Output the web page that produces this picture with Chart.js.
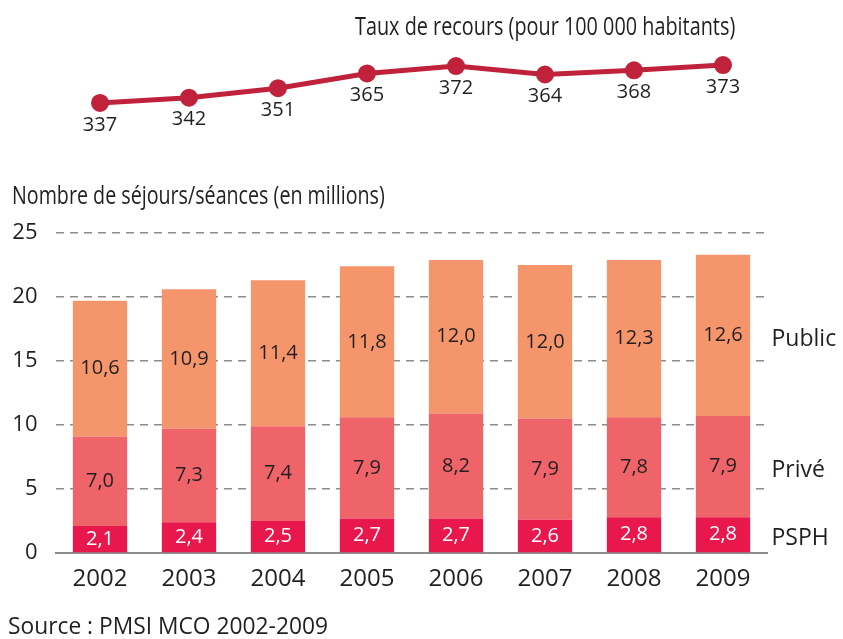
<!DOCTYPE html>
<html>
<head>
<meta charset="utf-8">
<title>Taux de recours et séjours MCO</title>
<script src="https://cdn.jsdelivr.net/npm/chart.js@4.4.1/dist/chart.umd.min.js"></script>
<style>
    body { margin: 0; background: #fff; }
    #wrap { position: relative; width: 843px; height: 639px; font-family: "Open Sans", sans-serif; color: #231f20; }
    #wrap canvas { position: absolute; left: 0; }
    .txt { position: absolute; white-space: nowrap; transform-origin: 0 0; font-size: 25px; line-height: 25px; }
</style>
</head>
<body>
<div id="wrap">
    <canvas id="lineChart" width="843" height="150" style="top:0"></canvas>
    <canvas id="barChart" width="843" height="489" style="top:150px"></canvas>
    <div class="txt" data-w="380" style="left:355px; top:13px;">Taux de recours (pour 100 000 habitants)</div>
    <div class="txt" data-w="373" style="left:12px; top:182px;">Nombre de séjours/séances (en millions)</div>
    <div class="txt" data-w="320" style="left:8px; top:613px; font-size:23px;">Source : PMSI MCO 2002-2009</div>
</div>
<script type="text/javascript">
var years = ['2002', '2003', '2004', '2005', '2006', '2007', '2008', '2009'];
var taux = [337, 342, 351, 365, 372, 364, 368, 373];
var psph = [2.1, 2.4, 2.5, 2.7, 2.7, 2.6, 2.8, 2.8];
var prive = [7.0, 7.3, 7.4, 7.9, 8.2, 7.9, 7.8, 7.9];
var publicS = [10.6, 10.9, 11.4, 11.8, 12.0, 12.0, 12.3, 12.6];
var yTicks = [0, 5, 10, 15, 20, 25];

var dark = '#231f20';
var font = '"Open Sans", sans-serif';

// squeeze the titles to the width they have in the original (condensed font)
document.querySelectorAll('.txt').forEach(function (el) {
    el.style.transform = 'scaleX(' + (+el.dataset.w / el.offsetWidth) + ')';
});

// values under the points of the line
var pointLabels = {
    id: 'pointLabels',
    afterDatasetsDraw: function (chart) {
        var ctx = chart.ctx;
        var meta = chart.getDatasetMeta(0);
        ctx.save();
        ctx.font = '20px ' + font;
        ctx.fillStyle = dark;
        ctx.textAlign = 'center';
        ctx.textBaseline = 'middle';
        meta.data.forEach(function (pt, i) {
            ctx.fillText(String(taux[i]), pt.x, pt.y + 22);
        });
        ctx.restore();
    }
};

new Chart(document.getElementById('lineChart'), {
    type: 'line',
    data: {
        labels: years,
        datasets: [{
            data: taux,
            borderColor: '#c1223b',
            backgroundColor: '#c1223b',
            borderWidth: 5,
            pointRadius: 6.5,
            pointHoverRadius: 6.5,
            tension: 0
        }]
    },
    options: {
        responsive: false,
        animation: false,
        events: [],
        layout: { padding: { left: 55.5, right: 75.5, top: 55, bottom: 35 } },
        plugins: { legend: { display: false }, tooltip: { enabled: false } },
        scales: {
            x: { display: false, offset: true },
            y: { display: false, min: 325.6, max: 382.5 }
        }
    },
    plugins: [pointLabels]
});

// values inside the segments and series names at the right
var barLabels = {
    id: 'barLabels',
    afterDatasetsDraw: function (chart) {
        var ctx = chart.ctx;
        ctx.save();
        ctx.textBaseline = 'middle';
        chart.data.datasets.forEach(function (ds, di) {
            var meta = chart.getDatasetMeta(di);
            ctx.font = '20px ' + font;
            ctx.textAlign = 'center';
            ctx.fillStyle = ds.textColor;
            meta.data.forEach(function (bar, i) {
                var txt = ds.data[i].toFixed(1).replace('.', ',');
                ctx.fillText(txt, bar.x, (bar.y + bar.base) / 2);
            });
            var last = meta.data[meta.data.length - 1];
            ctx.font = '23px ' + font;
            ctx.textAlign = 'left';
            ctx.fillStyle = dark;
            ctx.fillText(ds.label, chart.chartArea.right + 4, (last.y + last.base) / 2 + 4);
        });
        ctx.restore();
    }
};

new Chart(document.getElementById('barChart'), {
    type: 'bar',
    data: {
        labels: years,
        datasets: [
            { label: 'PSPH', data: psph, backgroundColor: '#e8184d', textColor: '#ffffff' },
            { label: 'Privé', data: prive, backgroundColor: '#ef6469', textColor: dark },
            { label: 'Public', data: publicS, backgroundColor: '#f5956b', textColor: dark }
        ]
    },
    options: {
        responsive: false,
        animation: false,
        events: [],
        datasets: { bar: { barPercentage: 0.61, categoryPercentage: 1 } },
        layout: { padding: { left: 0, right: 75.5, top: 83, bottom: 46 } },
        plugins: { legend: { display: false }, tooltip: { enabled: false } },
        scales: {
            x: {
                stacked: true,
                grid: { display: false, drawTicks: false },
                border: { display: true, color: '#8c8c8c', width: 2 },
                ticks: { color: dark, font: { size: 24, family: font }, padding: 12 },
                afterFit: function (s) { s.height = 40; }
            },
            y: {
                stacked: true,
                min: 0,
                max: 25,
                afterBuildTicks: function (s) { s.ticks = yTicks.map(function (v) { return { value: v }; }); },
                grid: { color: '#8c8c8c', lineWidth: 1.5, drawTicks: false },
                border: { display: false, dash: [8, 6] },
                ticks: { color: dark, font: { size: 22, family: font }, padding: 18 },
                afterFit: function (s) { s.width = 55.5; }
            }
        }
    },
    plugins: [barLabels]
});
</script>
</body>
</html>
